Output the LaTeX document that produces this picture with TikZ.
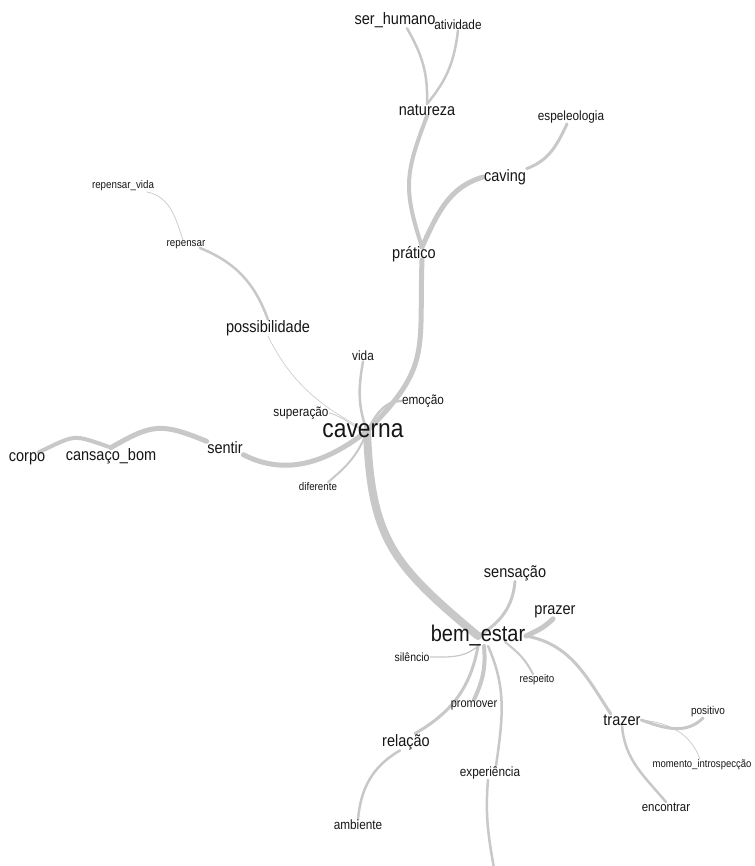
\documentclass[tikz,border=0pt]{standalone}
\usepackage{fontspec}
\setmainfont[FakeStretch=0.88]{Liberation Sans}
\usetikzlibrary{backgrounds}

\definecolor{wiregray}{RGB}{200,200,200}
\definecolor{ink}{RGB}{22,22,22}

\begin{document}
\begin{tikzpicture}[x=1pt, y=-1pt,
  word/.style={inner sep=0.5pt, text=ink},
  wordbig/.style={word, font=\fontsize{25.9}{26}\selectfont},
  wordmid/.style={word, font=\fontsize{16.5}{17}\selectfont},
  wordsmall/.style={word, font=\fontsize{13.4}{14}\selectfont},
  wordtiny/.style={word, font=\fontsize{11.1}{12}\selectfont},
  tie/.style={draw=wiregray, line cap=round}
]
  \useasboundingbox (0,0) rectangle (754,866);
  \clip (0,0) rectangle (754,866);

  % words
  \node[wordmid]   (serhumano)     at (395,20)  {ser\_humano};
  \node[wordsmall] (atividade)     at (458,25)  {atividade};
  \node[wordmid]   (natureza)      at (427,110) {natureza};
  \node[wordsmall] (espeleologia)  at (571,117) {espeleologia};
  \node[wordmid]   (caving)        at (505,177) {caving};
  \node[wordtiny]  (repensarvida)  at (123,186) {repensar\_vida};
  \node[wordtiny]  (repensar)      at (186,245) {repensar};
  \node[wordmid]   (pratico)       at (414,254) {prático};
  \node[wordmid]   (possibilidade) at (268,328) {possibilidade};
  \node[wordsmall] (vida)          at (363,356) {vida};
  \node[wordsmall] (emocao)        at (423,401) {emoção};
  \node[wordsmall] (superacao)     at (301,413) {superação};
  \node[wordbig]   (caverna)       at (363,431) {caverna};
  \node[wordmid]   (sentir)        at (225,448) {sentir};
  \node[wordmid]   (cansaco)       at (111,456) {cansaço\_bom};
  \node[wordmid]   (corpo)         at (27,459)  {corpo};
  \node[wordtiny]  (diferente)     at (318,487) {diferente};
  \node[wordmid]   (sensacao)      at (515,573) {sensação};
  \node[wordmid]   (prazer)        at (555,612) {prazer};
  \node[wordbig, font=\fontsize{22.7}{23}\selectfont] (bemestar) at (478,636) {bem\_estar};
  \node[wordtiny, font=\fontsize{11.9}{12}\selectfont] (silencio) at (412,657) {silêncio};
  \node[wordtiny]  (respeito)      at (537,680) {respeito};
  \node[wordsmall, font=\fontsize{12.5}{13}\selectfont] (promover) at (474,705) {promover};
  \node[wordmid]   (trazer)        at (622,720) {trazer};
  \node[wordtiny, font=\fontsize{11.4}{12}\selectfont] (positivo) at (708,712) {positivo};
  \node[wordtiny, font=\fontsize{10.8}{11}\selectfont] (momento) at (702,765) {momento\_introspecção};
  \node[wordmid]   (relacao)       at (406,742) {relação};
  \node[wordsmall] (experiencia)   at (490,773) {experiência};
  \node[wordsmall, font=\fontsize{13}{13}\selectfont] (encontrar) at (666,807) {encontrar};
  \node[wordsmall] (ambiente)      at (358,825) {ambiente};
  \coordinate (offpage) at (497,885);

  \begin{scope}[on background layer]
    \fill[white] (0,0) rectangle (754,866);
    % caverna side
    \draw[tie, line width=8] ([xshift=4pt]caverna.center) to[out=-88, in=140, looseness=1.2] (bemestar.center);
    \draw[tie, line width=5] ([xshift=4pt]caverna.center) to[out=45, in=-92, looseness=1.3] ([shift={(8,6)}]pratico.center);
    \draw[tie, line width=4] ([shift={(8,-7)}]pratico.center) to[out=108, in=-111, looseness=1.2] (natureza.south);
    \draw[tie, line width=2.5] (natureza.north) to[out=88, in=-60] ([xshift=12pt]serhumano.south);
    \draw[tie, line width=2.5] (natureza.north) to[out=50, in=-97] (atividade.south);
    \draw[tie, line width=5] ([shift={(8,-7)}]pratico.center) to[out=65, in=-164] (caving.west);
    \draw[tie, line width=3] (caving.north east) to[out=20, in=-115] ([xshift=-4pt]espeleologia.south);
    \draw[tie, line width=2.5] ([xshift=4pt]caverna.center) to[out=110, in=-100] (vida.south);
    \draw[tie, line width=2.5] ([xshift=4pt]caverna.center) to[out=60, in=180] (emocao.west);
    \draw[tie, line width=0.6] (possibilidade.south) to[out=-63, in=152] ([xshift=4pt]caverna.center);
    \draw[tie, line width=2.5] (possibilidade.north) to[out=110, in=-22] ([shift={(-6,3)}]repensar.east);
    \draw[tie, line width=0.7] ([xshift=-3pt]repensar.north) to[out=108, in=-11] ([xshift=-8pt]repensarvida.south east);
    \draw[tie, line width=0.8] (superacao.east) to[out=-15, in=165] ([xshift=4pt]caverna.center);
    \draw[tie, line width=5] ([xshift=4pt]caverna.center) to[out=-142, in=-27] (sentir.south east);
    \draw[tie, line width=5] (sentir.north west) to[out=158, in=30, looseness=1.3] (cansaco.north);
    \draw[tie, line width=4] (cansaco.north) to[out=161, in=25, looseness=1.5] ([xshift=-7pt]corpo.north east);
    \draw[tie, line width=2] ([xshift=4pt]caverna.center) to[out=-110, in=40] ([xshift=10pt]diferente.north);
    % bem_estar side
    \draw[tie, line width=3] (bemestar.center) to[out=30, in=-95] (sensacao.south);
    \draw[tie, line width=5] (bemestar.east) to[out=25, in=-135] ([xshift=-2pt]prazer.south);
    \draw[tie, line width=3] (bemestar.east) to[out=-10, in=123] ([xshift=8pt]trazer.north west);
    \draw[tie, line width=3] (trazer.east) to[out=-20, in=-135] ([xshift=-5pt]positivo.south);
    \draw[tie, line width=0.7] (trazer.east) to[out=-5, in=110] ([xshift=-2pt]momento.north);
    \draw[tie, line width=2.5] (trazer.south) to[out=-85, in=130] (encontrar.north);
    \draw[tie, line width=1.2] ([shift={(2,8)}]bemestar.center) to[out=-135, in=0] (silencio.east);
    \draw[tie, line width=2] ([shift={(27,6)}]bemestar.center) to[out=-38, in=117] ([xshift=-4pt]respeito.north);
    \draw[tie, line width=4] ([shift={(6,10)}]bemestar.center) to[out=-85, in=65] (promover.north);
    \draw[tie, line width=3] ([shift={(0,10)}]bemestar.center) to[out=-100, in=30] ([xshift=9pt]relacao.north);
    \draw[tie, line width=2.5] ([xshift=-6pt]relacao.south) to[out=-150, in=85] (ambiente.north);
    \draw[tie, line width=2.5] ([shift={(10,10)}]bemestar.center) to[out=-66, in=82] ([xshift=6pt]experiencia.north);
    \draw[tie, line width=2.5] ([xshift=-2pt]experiencia.south) to[out=-95, in=100] (offpage);
  \end{scope}
\end{tikzpicture}
\end{document}
